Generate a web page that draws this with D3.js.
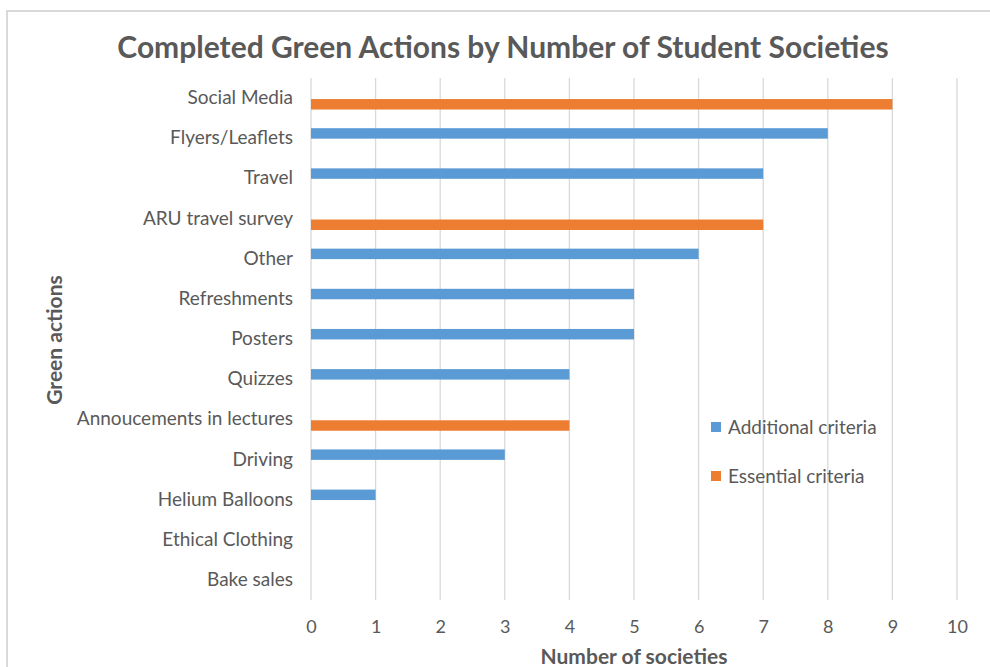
<!DOCTYPE html>
<html>
<head>
<meta charset="utf-8">
<script src="https://cdn.jsdelivr.net/npm/d3@7"></script>
<style>
  body { margin: 0; background: #fff; }
  svg, svg text { font-family: Lato, "Open Sans", sans-serif; }
</style>
</head>
<body>
<div id="chart"></div>
<script>
// data
const categories = ["Social Media", "Flyers/Leaflets", "Travel", "ARU travel survey", "Other",
    "Refreshments", "Posters", "Quizzes", "Annoucements in lectures", "Driving",
    "Helium Balloons", "Ethical Clothing", "Bake sales"];
const additional = [0, 8, 7, 0, 6, 5, 5, 4, 0, 3, 1, 0, 0];
const essential  = [9, 0, 0, 7, 0, 0, 0, 0, 4, 0, 0, 0, 0];
const seriesNames = ["Additional criteria", "Essential criteria"];
const seriesColors = ["#5b9bd5", "#ed7d31"];
const xTicks = [0, 1, 2, 3, 4, 5, 6, 7, 8, 9, 10];

const width = 990, height = 667;
let margin = {top: 78, right: 33, bottom: 67, left: 311};

const svg = d3.select("#chart").append("svg")
    .attr("width", width)
    .attr("height", height);

// chart frame
svg.append("rect")
    .attr("x", 7).attr("y", 11)
    .attr("width", 1000).attr("height", 700)
    .attr("fill", "#fff")
    .attr("stroke", "#d9d9d9")
    .attr("stroke-width", 2);

const g = svg.append("g")
    .attr("transform", `translate(${margin.left},${margin.top})`);
let w = width - margin.left - margin.right;   // 646
let h = height - margin.top - margin.bottom;  // 522

const x = d3.scaleLinear().domain([0, 10]).range([0, w]);
const y = d3.scaleBand().domain(categories).range([0, h]).padding(0);
const ySub = d3.scaleBand().domain(seriesNames)
    .range([y.bandwidth() * 0.25, y.bandwidth() * 0.785])
    .paddingInner(0.05);

// gridlines
g.append("g")
    .selectAll("line")
    .data(xTicks)
    .join("line")
    .attr("x1", d => x(d)).attr("x2", d => x(d))
    .attr("y1", 0).attr("y2", h)
    .attr("stroke", "#d9d9d9")
    .attr("stroke-width", 1.3);

// x axis labels
g.append("g")
    .attr("transform", `translate(0,${h})`)
    .call(d3.axisBottom(x).tickValues(xTicks).tickSize(0).tickPadding(20))
    .call(a => a.select(".domain").remove())
    .attr("font-family", null)
    .selectAll("text")
    .attr("fill", "#595959")
    .style("font-size", "18px");

// y axis labels
g.append("g")
    .call(d3.axisLeft(y).tickSize(0).tickPadding(18))
    .call(a => a.select(".domain").remove())
    .attr("font-family", null)
    .selectAll("text")
    .attr("fill", "#595959")
    .style("font-size", "19px");

// bars
const rows = categories.map((c, i) => ({cat: c, vals: [additional[i], essential[i]]}));
const groups = g.selectAll(".cat")
    .data(rows)
    .join("g")
    .attr("class", "cat")
    .attr("transform", d => `translate(0,${y(d.cat)})`);

groups.selectAll("rect")
    .data(d => d.vals.map((v, k) => ({name: seriesNames[k], v: v, k: k})).filter(e => e.v > 0))
    .join("rect")
    .attr("x", x(0))
    .attr("y", e => ySub(e.name))
    .attr("width", e => x(e.v) - x(0))
    .attr("height", ySub.bandwidth())
    .attr("fill", e => seriesColors[e.k]);

// title
svg.append("text")
    .attr("x", 503).attr("y", 58)
    .attr("text-anchor", "middle")
    .attr("fill", "#595959")
    .style("font-size", "30px")
    .style("font-weight", "bold")
    .text("Completed Green Actions by Number of Student Societies");

// axis titles
svg.append("text")
    .attr("x", 634).attr("y", 664)
    .attr("text-anchor", "middle")
    .attr("fill", "#595959")
    .style("font-size", "21px")
    .style("font-weight", "bold")
    .text("Number of societies");

svg.append("text")
    .attr("transform", "translate(62,340) rotate(-90)")
    .attr("text-anchor", "middle")
    .attr("fill", "#595959")
    .style("font-size", "21px")
    .style("font-weight", "bold")
    .text("Green actions");

// legend
const legend = svg.append("g").attr("transform", "translate(711,422)");
const li = legend.selectAll("g")
    .data(seriesNames)
    .join("g")
    .attr("transform", (d, i) => `translate(0,${i * 49})`);
li.append("rect")
    .attr("width", 10).attr("height", 10)
    .attr("fill", (d, i) => seriesColors[i]);
li.append("text")
    .attr("x", 17).attr("y", 12)
    .attr("fill", "#595959")
    .style("font-size", "19px")
    .text(d => d);
</script>
</body>
</html>
